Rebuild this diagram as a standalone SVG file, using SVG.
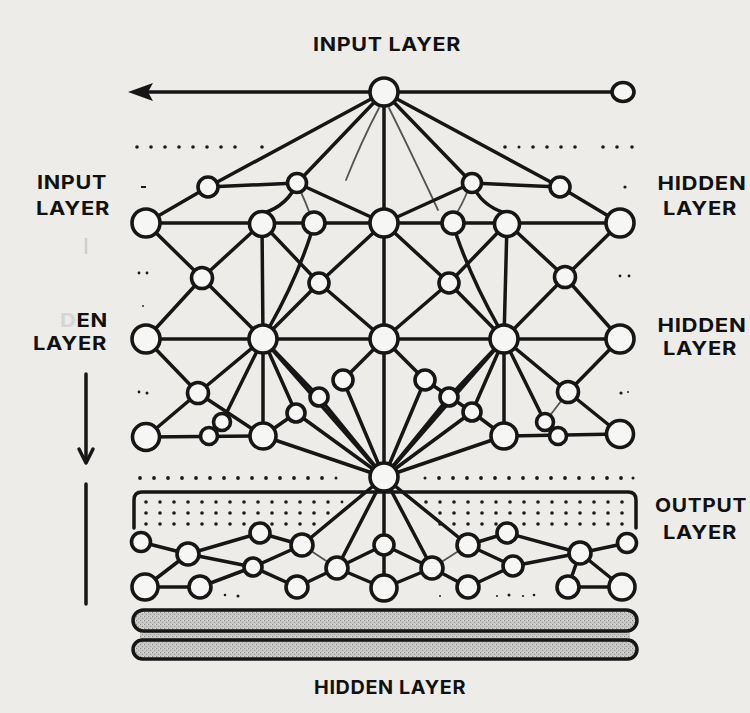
<svg xmlns="http://www.w3.org/2000/svg" width="750" height="713" viewBox="0 0 750 713">
<style>
.e{stroke:#161616;stroke-width:3.5;fill:none;stroke-linecap:round}
.bar{stroke:#161616;stroke-width:3.5;fill:url(#stip)}
.th{stroke:#222;stroke-width:1.8;fill:none;opacity:.75;stroke-linecap:round}
.n{fill:#f6f6f4;stroke:#161616;stroke-width:3.6}
.lbl{font-family:Inter,"Open Sans","Liberation Sans",sans-serif;font-weight:700;font-size:19px;fill:#111;letter-spacing:0.6px}
.d{fill:#1a1a1a}
</style>
<defs>
<pattern id="stip" width="4" height="4" patternUnits="userSpaceOnUse">
<rect width="4" height="4" fill="#c6c6c4"/>
<rect x="0" y="0" width="1" height="1" fill="#8a8a88"/>
<rect x="2" y="2" width="1" height="1" fill="#9c9c9a"/>
<rect x="3" y="0" width="1" height="1" fill="#e0e0de"/>
</pattern>
</defs>
<rect width="750" height="713" fill="#edece8"/>

<!-- labels -->
<g id="lbl-top"><text class="lbl" x="387" y="51" text-anchor="middle" textLength="148" lengthAdjust="spacingAndGlyphs">INPUT LAYER</text></g>
<g id="lbl-bottom"><text class="lbl" x="390" y="694" text-anchor="middle" textLength="152" lengthAdjust="spacingAndGlyphs">HIDDEN LAYER</text></g>
<g id="lbl-left1"><text class="lbl" x="72" y="189" text-anchor="middle" textLength="70" lengthAdjust="spacingAndGlyphs">INPUT</text><text class="lbl" x="73" y="215" text-anchor="middle" textLength="74" lengthAdjust="spacingAndGlyphs">LAYER</text></g>
<g id="lbl-left2"><text class="lbl" x="108" y="327" text-anchor="end" textLength="48" lengthAdjust="spacingAndGlyphs"><tspan fill="#d6d6d4">D</tspan>EN</text><text class="lbl" x="70" y="350" text-anchor="middle" textLength="74" lengthAdjust="spacingAndGlyphs">LAYER</text></g>
<g id="lbl-right1"><text class="lbl" x="702" y="190" text-anchor="middle" textLength="89" lengthAdjust="spacingAndGlyphs">HIDDEN</text><text class="lbl" x="700" y="215" text-anchor="middle" textLength="74" lengthAdjust="spacingAndGlyphs">LAYER</text></g>
<g id="lbl-right2"><text class="lbl" x="702" y="332" text-anchor="middle" textLength="89" lengthAdjust="spacingAndGlyphs">HIDDEN</text><text class="lbl" x="700" y="355" text-anchor="middle" textLength="74" lengthAdjust="spacingAndGlyphs">LAYER</text></g>
<g id="lbl-right3"><text class="lbl" x="701" y="512" text-anchor="middle" textLength="92" lengthAdjust="spacingAndGlyphs">OUTPUT</text><text class="lbl" x="700" y="539" text-anchor="middle" textLength="74" lengthAdjust="spacingAndGlyphs">LAYER</text></g>

<!-- side arrows -->
<g id="left-arrow">
<line x1="86" y1="238" x2="86" y2="254" stroke="#cfcfcd" stroke-width="2.5"/>
<line class="e" x1="86" y1="374" x2="86" y2="462"/>
<polyline class="e" points="79,449 86,463 93,449" stroke-linejoin="round"/>
<line class="e" x1="86" y1="484" x2="86" y2="604"/>
</g>

<!-- dotted rows -->
<g id="dots" class="d">
<circle cx="137" cy="147" r="1.8"/><circle cx="151" cy="147" r="1.8"/><circle cx="165" cy="147" r="1.8"/><circle cx="179" cy="147" r="1.8"/><circle cx="193" cy="147" r="1.8"/><circle cx="207" cy="147" r="1.8"/><circle cx="221" cy="147" r="1.8"/><circle cx="235" cy="147" r="1.8"/><circle cx="262" cy="147" r="1.8"/>
<circle cx="505" cy="147" r="1.8"/><circle cx="519" cy="147" r="1.5"/><circle cx="533" cy="147" r="1.8"/><circle cx="547" cy="147" r="1.8"/><circle cx="561" cy="147" r="1.8"/><circle cx="575" cy="147" r="1.8"/><circle cx="603" cy="147" r="1.8"/><circle cx="617" cy="147" r="1.8"/><circle cx="632" cy="147" r="1.8"/>
<rect x="141" y="186" width="5" height="2"/><circle cx="625" cy="187" r="1.6"/>
<circle cx="139" cy="273" r="1.4"/><circle cx="147" cy="273" r="1.4"/><circle cx="143" cy="306" r="0.9"/>
<circle cx="620" cy="276" r="1.4"/><circle cx="629" cy="276" r="1.4"/>
<circle cx="139" cy="392" r="1.4"/><circle cx="147" cy="393" r="1.5"/>
<circle cx="621" cy="393" r="1.6"/><circle cx="628" cy="392" r="0.9"/>
<circle cx="140" cy="478" r="1.9"/><circle cx="154" cy="478" r="1.9"/><circle cx="168" cy="478" r="1.9"/><circle cx="182" cy="478" r="1.9"/><circle cx="196" cy="478" r="1.9"/><circle cx="210" cy="478" r="1.9"/><circle cx="224" cy="478" r="1.9"/><circle cx="238" cy="478" r="1.9"/><circle cx="252" cy="478" r="1.9"/><circle cx="266" cy="478" r="1.9"/><circle cx="280" cy="478" r="1.9"/><circle cx="294" cy="478" r="1.9"/><circle cx="308" cy="478" r="1.9"/><circle cx="322" cy="478" r="1.9"/><circle cx="336" cy="478" r="1.5"/>
<circle cx="425" cy="478" r="1.5"/><circle cx="439" cy="478" r="1.9"/><circle cx="453" cy="478" r="1.9"/><circle cx="467" cy="478" r="1.9"/><circle cx="481" cy="478" r="1.9"/><circle cx="495" cy="478" r="1.9"/><circle cx="509" cy="478" r="1.9"/><circle cx="523" cy="478" r="1.9"/><circle cx="537" cy="478" r="1.9"/><circle cx="551" cy="478" r="1.9"/><circle cx="565" cy="478" r="1.9"/><circle cx="579" cy="478" r="1.9"/><circle cx="593" cy="478" r="1.9"/><circle cx="607" cy="478" r="1.9"/><circle cx="621" cy="478" r="1.9"/><circle cx="633" cy="478" r="1.5"/>
<circle cx="225" cy="595" r="1.3"/><circle cx="238" cy="596" r="1.5"/>
<circle cx="440" cy="596" r="0.9"/><circle cx="497" cy="596" r="1"/><circle cx="509" cy="595" r="1.5"/><circle cx="523" cy="596" r="1.1"/><circle cx="534" cy="595" r="1.3"/>
</g>

<!-- dotted output box -->
<g id="output-box">
<path class="e" d="M134,528 L134,500 Q134,492 142,492 L628,492 Q636,492 636,500 L636,528"/>
<g class="d">
<circle cx="146" cy="502" r="1.8"/><circle cx="160" cy="502" r="1.8"/><circle cx="174" cy="502" r="1.8"/><circle cx="188" cy="502" r="1.8"/><circle cx="202" cy="502" r="1.8"/><circle cx="216" cy="502" r="1.8"/><circle cx="230" cy="502" r="1.8"/><circle cx="244" cy="502" r="1.8"/><circle cx="258" cy="502" r="1.8"/><circle cx="272" cy="502" r="1.8"/><circle cx="286" cy="502" r="1.8"/><circle cx="300" cy="502" r="1.8"/><circle cx="314" cy="502" r="1.8"/><circle cx="328" cy="502" r="1.8"/><circle cx="342" cy="502" r="1.4"/>
<circle cx="146" cy="513" r="1.8"/><circle cx="160" cy="513" r="1.8"/><circle cx="174" cy="513" r="1.8"/><circle cx="188" cy="513" r="1.8"/><circle cx="202" cy="513" r="1.8"/><circle cx="216" cy="513" r="1.8"/><circle cx="230" cy="513" r="1.8"/><circle cx="244" cy="513" r="1.8"/><circle cx="258" cy="513" r="1.8"/><circle cx="272" cy="513" r="1.8"/><circle cx="286" cy="513" r="1.8"/><circle cx="300" cy="513" r="1.8"/><circle cx="314" cy="513" r="1.8"/><circle cx="328" cy="513" r="1.8"/>
<circle cx="146" cy="524" r="1.8"/><circle cx="160" cy="524" r="1.8"/><circle cx="174" cy="524" r="1.8"/><circle cx="188" cy="524" r="1.8"/><circle cx="202" cy="524" r="1.8"/><circle cx="216" cy="524" r="1.8"/><circle cx="230" cy="524" r="1.8"/><circle cx="244" cy="524" r="1.8"/><circle cx="258" cy="524" r="1.8"/><circle cx="272" cy="524" r="1.8"/><circle cx="286" cy="524" r="1.8"/><circle cx="300" cy="524" r="1.8"/><circle cx="314" cy="524" r="1.8"/>
<circle cx="426" cy="502" r="1.8"/><circle cx="440" cy="502" r="1.8"/><circle cx="454" cy="502" r="1.8"/><circle cx="468" cy="502" r="1.8"/><circle cx="482" cy="502" r="1.8"/><circle cx="496" cy="502" r="1.8"/><circle cx="510" cy="502" r="1.8"/><circle cx="524" cy="502" r="1.8"/><circle cx="538" cy="502" r="1.8"/><circle cx="552" cy="502" r="1.8"/><circle cx="566" cy="502" r="1.8"/><circle cx="580" cy="502" r="1.8"/><circle cx="594" cy="502" r="1.8"/><circle cx="608" cy="502" r="1.8"/><circle cx="622" cy="502" r="1.8"/>
<circle cx="440" cy="513" r="1.8"/><circle cx="454" cy="513" r="1.8"/><circle cx="468" cy="513" r="1.8"/><circle cx="482" cy="513" r="1.8"/><circle cx="496" cy="513" r="1.8"/><circle cx="510" cy="513" r="1.8"/><circle cx="524" cy="513" r="1.8"/><circle cx="538" cy="513" r="1.8"/><circle cx="552" cy="513" r="1.8"/><circle cx="566" cy="513" r="1.8"/><circle cx="580" cy="513" r="1.8"/><circle cx="594" cy="513" r="1.8"/><circle cx="608" cy="513" r="1.8"/><circle cx="622" cy="513" r="1.8"/>
<circle cx="440" cy="524" r="1.8"/><circle cx="454" cy="524" r="1.8"/><circle cx="468" cy="524" r="1.8"/><circle cx="482" cy="524" r="1.8"/><circle cx="496" cy="524" r="1.8"/><circle cx="510" cy="524" r="1.8"/><circle cx="524" cy="524" r="1.8"/><circle cx="538" cy="524" r="1.8"/><circle cx="552" cy="524" r="1.8"/><circle cx="566" cy="524" r="1.8"/><circle cx="580" cy="524" r="1.8"/><circle cx="594" cy="524" r="1.8"/><circle cx="608" cy="524" r="1.8"/><circle cx="622" cy="524" r="1.8"/>
</g>
</g>

<!-- bars -->
<g id="bars">
<rect x="140" y="628" width="490" height="14" fill="url(#stip)"/>
<rect class="bar" x="133" y="610" width="504" height="21" rx="10.5"/>
<rect class="bar" x="133" y="640" width="504" height="19" rx="9.5"/>
</g>

<!-- connectors -->
<g id="connectors">
<!-- top arrow -->
<line class="e" x1="146" y1="92" x2="612" y2="92"/>
<path d="M128,92 L153,83 L148,92 L153,101 Z" fill="#161616"/>
<!-- from T -->
<line class="e" x1="384" y1="92" x2="208" y2="187"/>
<line class="e" x1="384" y1="92" x2="297" y2="183"/>
<line class="e" x1="384" y1="92" x2="384" y2="223"/>
<line class="e" x1="384" y1="92" x2="472" y2="183"/>
<line class="e" x1="384" y1="92" x2="560" y2="187"/>
<path class="th" d="M379,108 Q362,140 346,180"/>
<path class="th" d="M389,108 Q410,150 438,210"/>
<!-- row A -->
<line class="e" x1="208" y1="187" x2="297" y2="183"/>
<line class="e" x1="208" y1="187" x2="146" y2="223"/>
<path class="e" d="M297,183 Q288,205 264,213"/>
<path class="th" d="M300,190 Q306,203 310,214"/>
<line class="e" x1="297" y1="183" x2="384" y2="223"/>
<line class="e" x1="472" y1="183" x2="384" y2="223"/>
<path class="th" d="M468,190 Q462,205 456,214"/>
<path class="e" d="M472,183 Q480,205 505,213"/>
<line class="e" x1="472" y1="183" x2="560" y2="187"/>
<line class="e" x1="560" y1="187" x2="620" y2="223"/>
<!-- row B -->
<line class="e" x1="146" y1="223" x2="620" y2="223"/>
<line class="e" x1="146" y1="223" x2="202" y2="278"/>
<line class="e" x1="262" y1="223" x2="202" y2="278"/>
<line class="e" x1="262" y1="223" x2="263" y2="339"/>
<line class="e" x1="262" y1="223" x2="319" y2="283"/>
<line class="e" x1="384" y1="223" x2="319" y2="283"/>
<line class="e" x1="384" y1="223" x2="384" y2="339"/>
<line class="e" x1="384" y1="223" x2="449" y2="283"/>
<line class="e" x1="507" y1="223" x2="449" y2="283"/>
<line class="e" x1="507" y1="223" x2="504" y2="339"/>
<line class="e" x1="507" y1="223" x2="565" y2="277"/>
<line class="e" x1="620" y1="223" x2="565" y2="277"/>
<path class="e" d="M311,234 Q296,280 270,326" stroke-width="2.4"/>
<path class="e" d="M456,234 Q472,280 498,326" stroke-width="2.4"/>
<!-- row C -->
<line class="e" x1="202" y1="278" x2="146" y2="339"/>
<line class="e" x1="202" y1="278" x2="263" y2="339"/>
<line class="e" x1="319" y1="283" x2="263" y2="339"/>
<line class="e" x1="319" y1="283" x2="384" y2="339"/>
<line class="e" x1="449" y1="283" x2="384" y2="339"/>
<line class="e" x1="449" y1="283" x2="504" y2="339"/>
<line class="e" x1="565" y1="277" x2="504" y2="339"/>
<line class="e" x1="565" y1="277" x2="620" y2="339"/>
<!-- row D -->
<line class="e" x1="146" y1="339" x2="620" y2="339"/>
<line class="e" x1="146" y1="339" x2="198" y2="393"/>
<line class="e" x1="263" y1="339" x2="198" y2="393"/>
<line class="e" x1="198" y1="393" x2="146" y2="437"/>
<line class="e" x1="198" y1="393" x2="263" y2="436"/>
<line class="e" x1="263" y1="339" x2="222" y2="422"/>
<line class="e" x1="146" y1="437" x2="263" y2="436"/>
<line class="e" x1="263" y1="339" x2="263" y2="436"/>
<line class="e" x1="263" y1="339" x2="319" y2="397"/>
<line class="e" x1="263" y1="339" x2="296" y2="413"/>
<line class="e" x1="296" y1="413" x2="263" y2="436"/>
<line class="e" x1="384" y1="339" x2="343" y2="380"/>
<line class="e" x1="384" y1="339" x2="384" y2="477"/>
<line class="e" x1="263" y1="436" x2="384" y2="477"/>
<line class="e" x1="296" y1="413" x2="384" y2="477"/>
<line class="e" x1="319" y1="397" x2="384" y2="477"/>
<line class="e" x1="343" y1="380" x2="384" y2="477"/>
<line class="e" x1="384" y1="339" x2="425" y2="380"/>
<line class="e" x1="425" y1="380" x2="472" y2="412"/>
<line class="e" x1="472" y1="412" x2="504" y2="436"/>
<line class="e" x1="425" y1="380" x2="384" y2="477"/>
<line class="e" x1="449" y1="397" x2="384" y2="477"/>
<line class="e" x1="472" y1="412" x2="384" y2="477"/>
<line class="e" x1="504" y1="436" x2="384" y2="477"/>
<line class="e" x1="504" y1="339" x2="384" y2="477"/>
<line class="e" x1="263" y1="339" x2="384" y2="477"/>
<line class="e" x1="504" y1="339" x2="449" y2="397"/>
<line class="e" x1="504" y1="339" x2="472" y2="412"/>
<line class="e" x1="504" y1="339" x2="504" y2="436"/>
<line class="e" x1="504" y1="339" x2="545" y2="422"/>
<line class="e" x1="504" y1="339" x2="568" y2="392"/>
<line class="e" x1="620" y1="339" x2="568" y2="392"/>
<line class="e" x1="568" y1="392" x2="620" y2="434"/>
<line class="th" x1="568" y1="392" x2="545" y2="422"/>
<line class="e" x1="504" y1="436" x2="620" y2="434"/>
<!-- hub down -->
<line class="e" x1="384" y1="477" x2="302" y2="545"/>
<line class="e" x1="384" y1="477" x2="337" y2="568"/>
<line class="e" x1="384" y1="477" x2="384" y2="588"/>
<line class="e" x1="384" y1="477" x2="432" y2="568"/>
<line class="e" x1="384" y1="477" x2="468" y2="545"/>
<!-- bottom network -->
<line class="e" x1="141" y1="542" x2="188" y2="554"/>
<line class="e" x1="188" y1="554" x2="260" y2="533"/>
<line class="e" x1="260" y1="533" x2="302" y2="545"/>
<line class="e" x1="188" y1="554" x2="253" y2="567"/>
<line class="e" x1="253" y1="567" x2="302" y2="545"/>
<line class="e" x1="188" y1="554" x2="145" y2="587"/>
<line class="e" x1="145" y1="587" x2="200" y2="587"/>
<line class="e" x1="200" y1="587" x2="253" y2="567"/>
<line class="e" x1="253" y1="567" x2="297" y2="587"/>
<line class="e" x1="297" y1="587" x2="337" y2="568"/>
<line class="th" x1="302" y1="545" x2="337" y2="568"/>
<line class="e" x1="337" y1="568" x2="384" y2="545"/>
<line class="e" x1="337" y1="568" x2="384" y2="588"/>
<line class="e" x1="384" y1="545" x2="432" y2="568"/>
<line class="e" x1="384" y1="588" x2="432" y2="568"/>
<line class="e" x1="432" y1="568" x2="468" y2="587"/>
<line class="th" x1="432" y1="568" x2="468" y2="545"/>
<line class="e" x1="468" y1="545" x2="507" y2="533"/>
<line class="e" x1="468" y1="545" x2="513" y2="566"/>
<line class="e" x1="507" y1="533" x2="580" y2="553"/>
<line class="e" x1="513" y1="566" x2="580" y2="553"/>
<line class="e" x1="513" y1="566" x2="468" y2="587"/>
<line class="e" x1="580" y1="553" x2="568" y2="587"/>
<line class="e" x1="580" y1="553" x2="622" y2="587"/>
<line class="e" x1="568" y1="587" x2="622" y2="587"/>
<line class="e" x1="580" y1="553" x2="627" y2="543"/>
</g>

<!-- nodes -->
<g id="node-T"><circle class="n" cx="384" cy="92" r="14"/></g>
<g id="node-end"><ellipse class="n" cx="623" cy="92" rx="11" ry="9.5"/></g>
<g id="node-A1"><circle class="n" cx="208" cy="187" r="10"/></g>
<g id="node-A2"><circle class="n" cx="297" cy="183" r="9.5"/></g>
<g id="node-A3"><circle class="n" cx="472" cy="183" r="9.5"/></g>
<g id="node-A4"><circle class="n" cx="560" cy="187" r="10"/></g>
<g id="node-B1"><circle class="n" cx="146" cy="223" r="14"/></g>
<g id="node-B2"><circle class="n" cx="262" cy="224" r="12.5"/></g>
<g id="node-B3"><circle class="n" cx="314" cy="223" r="11"/></g>
<g id="node-B4"><circle class="n" cx="384" cy="223" r="14"/></g>
<g id="node-B5"><circle class="n" cx="453" cy="223" r="11"/></g>
<g id="node-B6"><circle class="n" cx="507" cy="224" r="12.5"/></g>
<g id="node-B7"><circle class="n" cx="620" cy="223" r="14"/></g>
<g id="node-C1"><circle class="n" cx="202" cy="278" r="10.5"/></g>
<g id="node-C2"><circle class="n" cx="319" cy="283" r="10"/></g>
<g id="node-C3"><circle class="n" cx="449" cy="283" r="10"/></g>
<g id="node-C4"><circle class="n" cx="565" cy="277" r="10.5"/></g>
<g id="node-D1"><circle class="n" cx="146" cy="339" r="14"/></g>
<g id="node-D2"><circle class="n" cx="263" cy="339" r="14"/></g>
<g id="node-D3"><circle class="n" cx="384" cy="339" r="14"/></g>
<g id="node-D4"><circle class="n" cx="504" cy="339" r="14"/></g>
<g id="node-D5"><circle class="n" cx="620" cy="339" r="14"/></g>
<g id="node-E1"><circle class="n" cx="198" cy="393" r="10.5"/></g>
<g id="node-E2"><circle class="n" cx="222" cy="422" r="8.5"/></g>
<g id="node-E3"><circle class="n" cx="209" cy="436" r="8.5"/></g>
<g id="node-E4"><circle class="n" cx="296" cy="413" r="9"/></g>
<g id="node-E5"><circle class="n" cx="319" cy="397" r="9"/></g>
<g id="node-E6"><circle class="n" cx="343" cy="380" r="10"/></g>
<g id="node-E7"><circle class="n" cx="425" cy="380" r="10"/></g>
<g id="node-E8"><circle class="n" cx="449" cy="397" r="9"/></g>
<g id="node-E9"><circle class="n" cx="472" cy="412" r="9"/></g>
<g id="node-E10"><circle class="n" cx="545" cy="422" r="8.5"/></g>
<g id="node-E11"><circle class="n" cx="558" cy="436" r="8.5"/></g>
<g id="node-E12"><circle class="n" cx="568" cy="392" r="10.5"/></g>
<g id="node-F1"><circle class="n" cx="146" cy="437" r="13.5"/></g>
<g id="node-F2"><circle class="n" cx="263" cy="436" r="13"/></g>
<g id="node-F3"><circle class="n" cx="504" cy="436" r="13"/></g>
<g id="node-F4"><circle class="n" cx="620" cy="434" r="13.5"/></g>
<g id="node-H"><circle class="n" cx="384" cy="477" r="14"/></g>
<g id="node-G1"><circle class="n" cx="141" cy="542" r="9.5"/></g>
<g id="node-G2"><circle class="n" cx="188" cy="554" r="11"/></g>
<g id="node-G3"><circle class="n" cx="260" cy="533" r="10"/></g>
<g id="node-G4"><circle class="n" cx="302" cy="545" r="11"/></g>
<g id="node-G5"><circle class="n" cx="253" cy="567" r="9"/></g>
<g id="node-G6"><circle class="n" cx="145" cy="587" r="13"/></g>
<g id="node-G7"><circle class="n" cx="200" cy="587" r="11"/></g>
<g id="node-G8"><circle class="n" cx="297" cy="587" r="11"/></g>
<g id="node-G9"><circle class="n" cx="337" cy="568" r="11"/></g>
<g id="node-G10"><circle class="n" cx="384" cy="545" r="10"/></g>
<g id="node-G11"><circle class="n" cx="384" cy="588" r="13"/></g>
<g id="node-G12"><circle class="n" cx="432" cy="568" r="11"/></g>
<g id="node-G13"><circle class="n" cx="468" cy="545" r="11"/></g>
<g id="node-G14"><circle class="n" cx="468" cy="587" r="11"/></g>
<g id="node-G15"><circle class="n" cx="507" cy="533" r="10"/></g>
<g id="node-G16"><circle class="n" cx="513" cy="566" r="10"/></g>
<g id="node-G17"><circle class="n" cx="580" cy="553" r="11"/></g>
<g id="node-G18"><circle class="n" cx="568" cy="587" r="11"/></g>
<g id="node-G19"><circle class="n" cx="622" cy="587" r="13"/></g>
<g id="node-G20"><circle class="n" cx="627" cy="543" r="9.5"/></g>
</svg>
